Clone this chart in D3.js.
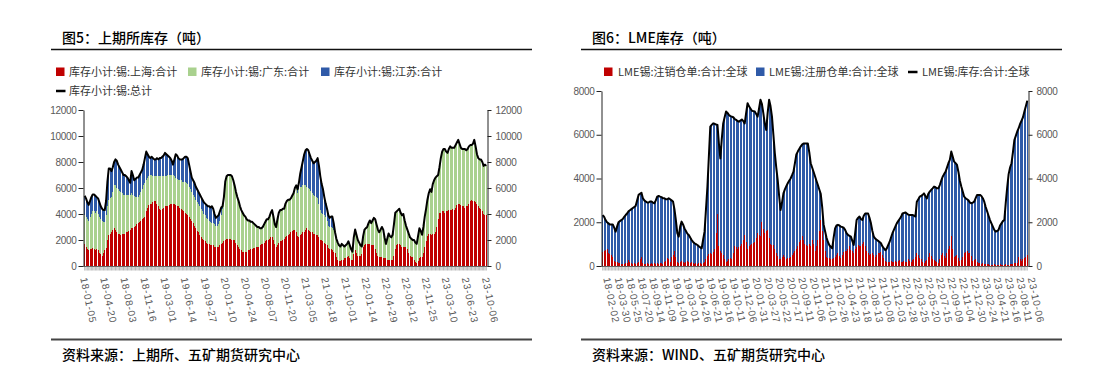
<!DOCTYPE html>
<html><head><meta charset="utf-8">
<script src="https://cdn.jsdelivr.net/npm/d3@7"></script>
<style>
body{margin:0;background:#fff;}
svg{display:block;font-family:"Noto Sans CJK SC","Noto Sans",sans-serif;}
</style></head><body>
<svg id="c" width="1111" height="382"></svg>
<script>
// ---------------- DATA: 图5 上期所库存（吨），周度 ----------------
const shfeStart = "2018-01-05";
const shfeTickLabels = ["18-01-05","18-04-20","18-08-03","18-11-16","19-03-01","19-06-14","19-09-27","20-01-10","20-04-24","20-08-07","20-11-20","21-03-05","21-06-18","21-10-01","22-01-14","22-04-29","22-08-12","22-11-25","23-03-10","23-06-23","23-10-06"];
const shfeYTicks = [0,2000,4000,6000,8000,10000,12000];
const shfeShanghai = [
1700,1500,1300,1200,1300,1300,1400,1300,1200,1300,
1200,1000,900,800,1000,1200,1400,2000,2400,2500,
2600,2800,2900,2800,2600,2500,2500,2400,2500,2500,
2500,2600,2600,2700,2800,2900,2900,3000,3100,3200,
3300,3400,3500,3600,3700,3800,4200,4500,4700,4800,
4800,4900,5000,5000,4800,4600,4400,4300,4400,4500,
4600,4600,4600,4700,4800,4800,4800,4800,4700,4600,
4600,4500,4400,4300,4200,4100,4000,3900,3800,3600,
3500,3300,3100,2900,2700,2600,2400,2200,2100,2000,
1900,1800,1700,1700,1600,1600,1600,1500,1500,1500,
1500,1600,1700,1800,1900,2000,2100,2100,2100,2100,
2000,2000,2000,1800,1600,1500,1300,1200,1100,1100,
1100,1100,1200,1200,1300,1300,1400,1400,1500,1500,
1500,1600,1700,1700,1800,1900,2000,2000,2100,2200,
2200,2000,1700,1500,1600,1800,1900,1900,2000,2100,
2200,2300,2400,2500,2600,2700,2800,2800,2600,2300,
2200,2400,2500,2600,2600,2800,2900,2800,2700,2600,
2600,2500,2500,2400,2400,2200,2000,2000,1900,1800,
1700,1600,1400,1300,1300,1200,1100,1000,700,500,
400,400,500,500,600,600,700,800,600,500,
500,900,1200,1000,800,800,800,900,1500,1600,
1700,1700,1700,1700,1600,1600,1600,1300,1000,800,
700,700,700,600,600,600,500,500,500,500,
500,800,1300,1600,1700,1700,1600,1500,1500,1500,
1500,1300,1000,800,700,700,500,300,200,400,
600,700,700,1000,1500,1900,2300,2500,2500,2400,
2500,2500,2600,3000,3600,4100,4100,4200,4200,4100,
4200,4200,4300,4300,4300,4400,4300,4500,4700,4800,
4800,4700,4600,4600,4500,4600,4600,4800,5000,5100,
5000,5000,4900,4800,4600,4500,4400,4200,4000,3900,
3900];
const shfeGuangdong = [
2200,2300,2300,2300,2500,2700,2800,2900,2900,2900,
2800,2800,2700,2700,2400,2200,2500,2600,2700,2700,
2700,2900,3300,3400,3400,3400,3300,3300,3100,3000,
3000,2900,2900,2800,2700,2700,2600,2400,2200,2100,
2000,2100,2200,2300,2500,2600,2400,2300,2200,2200,
2200,2000,1900,1900,2100,2300,2500,2600,2500,2400,
2300,2300,2400,2300,2200,2200,2200,2100,2100,2100,
2000,2100,2200,2200,2300,2400,2400,2400,2300,2300,
2200,2200,2200,2200,2200,2200,2200,2200,2100,2000,
2000,1900,1900,1800,1800,1700,1700,1700,1600,1600,
1700,1900,2200,2600,3400,4500,4800,4900,4900,4900,
4900,4600,4200,3900,3700,3500,3300,3100,3000,2800,
2700,2500,2300,2300,2100,2100,1900,1800,1600,1500,
1500,1300,1200,1300,1400,1500,1600,1600,1700,1900,
2100,1800,1500,1500,2000,2300,2400,2400,2400,2300,
2600,2700,2700,2600,2600,2700,2800,3200,3400,3300,
3700,3700,3600,3600,3600,3400,3200,3200,3200,3200,
3000,3000,2900,2900,2800,2600,2300,2100,2100,2100,
2100,1900,1700,1700,1700,1700,1700,1600,1400,1300,
1200,1100,1200,1100,900,1000,1000,1100,1000,800,
600,1300,1600,1400,1200,1000,800,600,800,1200,
1200,1300,1600,1800,1700,1900,2100,2300,2200,2000,
1900,2100,2300,2200,1600,1100,1600,2000,1800,1700,
1900,2400,2800,2600,2600,2700,2500,2400,2500,2000,
1600,1500,1500,1400,1400,1300,1500,1500,1500,1900,
2300,2000,1700,2000,2300,2500,2800,3100,3400,3300,
3800,4100,4200,3900,3400,3500,4200,4600,4800,4900,
4600,4500,4700,4900,4800,4700,4800,4800,4800,4900,
4600,4400,4400,4400,4500,4300,4400,4400,4300,4200,
4400,4700,4300,3800,3700,3700,3800,3800,3700,3900,
3800];
const shfeJiangsu = [
1500,1400,1300,1200,1200,1300,1300,1300,1300,1100,
1200,1100,1000,900,900,900,1100,1900,2400,2300,
2000,1900,1800,2000,2100,1900,1800,1700,1600,1500,
1500,1400,1300,1100,900,1700,1500,1200,1400,1500,
1500,1500,1500,1500,1600,1900,2200,1800,1500,1300,
1400,1400,1300,1300,1400,1300,1400,1400,1500,1600,
1800,1700,1500,1400,1300,1100,800,1300,1800,1800,
1700,1600,1600,1700,1800,1900,2000,2000,1700,1400,
1100,1100,1100,1000,1000,900,900,900,900,900,
900,1000,1000,1100,1100,1300,1100,800,600,700,
700,700,600,200,0,0,0,0,0,0,
0,0,0,0,0,0,0,0,0,0,
0,0,0,0,0,0,0,0,0,0,
0,0,0,0,0,0,0,0,0,0,
0,0,0,0,0,0,0,0,0,0,
0,0,0,0,0,0,0,0,200,300,
500,1000,1500,1900,2400,2700,2900,2900,2700,2500,
2500,2400,2600,2800,3100,2900,2600,2200,1900,1400,
1000,900,800,700,800,900,500,0,0,0,
0,0,0,0,0,0,0,0,0,0,
0,0,0,0,0,0,0,0,0,0,
0,0,0,0,0,0,0,0,0,0,
0,0,0,0,0,0,0,0,0,0,
0,0,0,0,0,0,0,0,0,0,
0,0,0,0,0,0,0,0,0,0,
0,0,0,0,0,0,0,0,0,0,
0,0,0,0,0,0,0,0,0,0,
0,0,0,0,0,0,0,0,0,0,
0,0,0,0,0,0,0,0,0,0,
0,0,0,0,0,0,0,0,0,0,
0];

// ---------------- DATA: 图6 LME库存（吨），周度 ----------------
const lmeStart = "2018-02-02";
const lmeTickLabels = ["18-02-02","18-03-30","18-05-25","18-07-20","18-09-14","18-11-09","19-01-04","19-03-01","19-04-26","19-06-21","19-08-16","19-10-11","19-12-06","20-01-31","20-03-27","20-05-22","20-07-17","20-09-11","20-11-06","21-01-01","21-02-26","21-04-23","21-06-18","21-08-13","21-10-08","21-12-03","22-01-28","22-03-25","22-05-20","22-07-15","22-09-09","22-11-04","22-12-30","23-02-24","23-04-21","23-06-16","23-08-11","23-10-06"];
const lmeYTicks = [0,2000,4000,6000,8000];
const lmeCancelled = [
650,700,750,800,600,550,500,400,250,200,
200,150,150,100,100,100,120,150,270,200,
150,100,120,100,150,200,300,400,150,100,
100,120,80,100,150,100,120,100,150,100,
120,150,100,200,250,350,300,200,400,500,
700,400,200,150,200,250,200,150,200,250,
200,150,200,150,100,150,100,120,150,100,
150,200,300,450,550,600,550,650,800,1500,
2400,900,700,600,500,300,200,250,300,350,
300,600,900,850,800,850,900,1000,1200,1400,
1100,800,900,950,1000,1050,1100,1300,1500,1400,
1350,2000,1700,1500,1600,1650,1300,1000,950,950,
800,600,450,300,300,400,500,400,300,350,
350,400,500,600,700,800,900,1100,1200,1350,
1200,1000,950,900,1000,900,1200,1000,700,900,
1200,1600,2100,1600,1200,700,400,350,350,300,
300,350,400,500,600,450,350,500,650,700,
700,800,900,750,700,600,800,850,950,900,
900,1000,1100,900,700,600,500,550,600,500,
400,500,600,600,650,500,350,250,200,200,
200,250,200,200,250,200,250,270,200,200,
250,200,200,300,250,200,270,300,400,600,
500,350,300,200,150,250,270,400,600,450,
300,270,250,200,150,300,500,600,450,350,
600,800,900,1350,800,400,450,500,350,250,
270,400,600,650,700,600,600,450,250,270,
300,200,150,120,100,120,100,100,100,80,
50,50,50,70,50,50,50,80,50,50,
50,80,50,50,100,80,100,120,150,150,
400,300,250,300,350,400,500];
const lmeRegistered = [
1680,1550,1350,1200,1350,1350,1400,1500,1500,1370,
1600,1850,1900,2000,2050,2150,2210,2250,2230,2350,
2450,2550,2580,2650,2850,3050,3000,2950,2950,2900,
2850,2780,2820,2850,2800,2800,2750,2900,3020,3100,
3050,3000,3000,2900,2800,2700,2800,2850,2600,2450,
1900,1700,1300,1190,1600,1780,1700,1570,1400,1230,
1220,1150,990,950,940,850,860,780,700,710,
1050,1370,2300,3180,4450,5770,5900,5870,5700,4970,
4050,4700,4220,5200,6020,6500,6860,6750,6600,6500,
6530,6200,5820,5830,5830,5750,5750,5700,5420,5120,
5900,6640,6400,6250,6100,6030,5960,5650,5330,5800,
6250,5400,5280,5000,4620,5350,6300,6300,5880,5050,
4350,3900,3480,2900,2260,2500,2820,3100,3350,3430,
3550,3600,3650,3710,4000,4300,4330,4250,4260,4200,
4400,4600,4650,4700,4200,3800,3300,3310,3400,3000,
2500,1900,1200,1100,700,900,900,750,600,580,
510,950,1320,1350,1280,1400,1450,1280,1100,950,
800,620,480,590,450,360,700,1250,1250,1360,
1250,1100,1200,1500,1700,1800,1700,1400,1000,840,
850,700,550,500,390,400,460,470,600,750,
900,1050,1300,1450,1550,1750,1800,1880,2050,2200,
2170,2250,2200,2050,2080,2130,2060,2000,1860,2340,
2550,2820,2900,3050,3170,2950,2820,2900,2800,3030,
3250,3360,3350,3350,3400,3400,3400,3480,3750,3960,
3900,3900,3950,3880,4200,4370,4250,4120,3950,3650,
3360,3000,2570,2450,2350,2400,2300,2420,2650,2670,
2800,3050,3100,3130,3100,2980,2840,2600,2400,2220,
2050,1900,1750,1580,1520,1550,1600,1770,1900,2000,
2050,2820,3550,4150,4400,4620,5100,5640,5800,6000,
5900,6200,6400,6500,6710,6900,7060];

// ---------------- DRAWING ----------------
const svg = d3.select("#c");
svg.append("rect").attr("width",1111).attr("height",382).attr("fill","#fff");
const parseD = d3.utcParse("%Y-%m-%d"), fmtD = d3.utcFormat("%y-%m-%d");
const AXF = '"Liberation Sans",Arial,sans-serif';

function panel(o){
  const g = svg.append("g");
  g.append("text").attr("x",o.fx+11).attr("y",42.5).attr("font-size",14).attr("font-weight",500).attr("fill","#000").text(o.title);
  g.append("line").attr("x1",o.fx).attr("x2",o.fx+481).attr("y1",49.5).attr("y2",49.5).attr("stroke","#111").attr("stroke-width",1.6);
  g.append("line").attr("x1",o.fx).attr("x2",o.fx+481).attr("y1",339.5).attr("y2",339.5).attr("stroke","#444").attr("stroke-width",2);
  g.append("text").attr("x",o.fx+11).attr("y",359.5).attr("font-size",14).attr("font-weight",500).attr("fill","#000").text(o.source);

  o.legend.forEach(l=>{
    if(l.type==="rect"){
      g.append("rect").attr("x",l.x).attr("y",l.y-4.5).attr("width",8.5).attr("height",8.5).attr("fill",l.color);
    } else {
      g.append("line").attr("x1",l.x).attr("x2",l.x+9.5).attr("y1",l.y).attr("y2",l.y).attr("stroke","#000").attr("stroke-width",2.5);
    }
    g.append("text").attr("x",l.x+l.tx).attr("y",l.y).attr("dy","0.36em").attr("font-size",11).attr("fill","#333").text(l.label);
  });

  const n = o.series[0].values.length;
  const start = parseD(o.start);
  const cats = d3.range(n).map(i=>fmtD(d3.utcDay.offset(start,7*i)));
  const rows = cats.map((c,i)=>{const r={cat:c}; o.series.forEach(s=>r[s.key]=s.values[i]); return r;});
  const keys = o.series.map(s=>s.key);
  const stack = d3.stack().keys(keys)(rows);
  const totals = rows.map(r=>d3.sum(keys,k=>r[k]));

  const x = d3.scaleBand().domain(cats).range([o.x0,o.x1]).paddingInner(0.3).paddingOuter(0.15);
  const y = d3.scaleLinear().domain([0,o.ymax]).range([o.y0,o.y1]);
  const bw = x.bandwidth();
  const cx = c => x(c)+bw/2;

  // bars: 1px crisp columns so the white gaps show as in the original
  stack.forEach((layer,li)=>{
    g.append("g").attr("fill",o.series[li].color).attr("shape-rendering","crispEdges")
      .selectAll("rect").data(layer).join("rect")
      .attr("x",(d,i)=>Math.round(cx(cats[i])-0.5)).attr("width",1)
      .attr("y",d=>y(d[1])).attr("height",d=>Math.max(0,y(d[0])-y(d[1])));
  });

  g.append("g").selectAll("line").data(cats).join("line")
    .attr("x1",cx).attr("x2",cx).attr("y1",o.y0).attr("y2",o.y0+4.5)
    .attr("stroke","#9a9a9a").attr("stroke-width",0.7);
  g.append("line").attr("x1",o.x0-0.5).attr("x2",o.x1+0.5).attr("y1",o.y0+0.5).attr("y2",o.y0+0.5).attr("stroke","#666").attr("stroke-width",1);

  g.append("path").datum(totals).attr("fill","none").attr("stroke","#000").attr("stroke-width",2).attr("stroke-linejoin","round")
    .attr("d",d3.line().x((d,i)=>cx(cats[i])).y(d=>y(d)));

  const la = g.append("g").attr("transform",`translate(${o.x0-0.5},0)`)
    .call(d3.axisLeft(y).tickValues(o.yticks).tickSize(5).tickSizeOuter(0).tickPadding(2).tickFormat(d3.format("d")));
  const ra = g.append("g").attr("transform",`translate(${o.x1+0.5},0)`)
    .call(d3.axisRight(y).tickValues(o.yticks).tickSize(4).tickSizeOuter(0).tickPadding(4).tickFormat(d3.format("d")));
  [la,ra].forEach(a=>{
    a.select(".domain").attr("stroke","#222");
    a.selectAll(".tick line").attr("stroke","#222");
    a.selectAll("text").attr("font-family",AXF).attr("font-size",10).attr("fill","#595959").attr("letter-spacing","-0.3px");
  });

  o.ticks.forEach(t=>{
    const i = cats.indexOf(t); if(i<0) return;
    const tx = cx(t)+o.ldx, ty = 277.5;
    g.append("text").attr("transform",`translate(${tx},${ty}) rotate(78)`).attr("dy","0.35em")
      .attr("font-family",AXF).attr("font-size",10).attr("letter-spacing","0.8px").attr("fill","#595959").text(t);
  });
}

panel({
  fx:51, title:"图5：上期所库存（吨）", source:"资料来源：上期所、五矿期货研究中心",
  legend:[
    {type:"rect",color:"#C00000",label:"库存小计:锡:上海:合计",x:56,y:72,tx:13},
    {type:"rect",color:"#A9D18E",label:"库存小计:锡:广东:合计",x:188,y:72,tx:13},
    {type:"rect",color:"#2F5AA8",label:"库存小计:锡:江苏:合计",x:321,y:72,tx:13},
    {type:"line",label:"库存小计:锡:总计",x:56,y:91,tx:13}
  ],
  series:[
    {key:"sh",values:shfeShanghai,color:"#C00000"},
    {key:"gd",values:shfeGuangdong,color:"#A9D18E"},
    {key:"js",values:shfeJiangsu,color:"#2F5AA8"}
  ],
  start:shfeStart, ticks:shfeTickLabels, yticks:shfeYTicks, ymax:12000,
  x0:84, x1:487, y0:266, y1:110, ldx:-1
});

panel({
  fx:581, title:"图6：LME库存（吨）", source:"资料来源：WIND、五矿期货研究中心",
  legend:[
    {type:"rect",color:"#C00000",label:"LME锡:注销仓单:合计:全球",x:604,y:72,tx:14},
    {type:"rect",color:"#2F5AA8",label:"LME锡:注册仓单:合计:全球",x:756,y:72,tx:13},
    {type:"line",label:"LME锡:库存:合计:全球",x:908,y:72,tx:14}
  ],
  series:[
    {key:"cancel",values:lmeCancelled,color:"#C00000"},
    {key:"reg",values:lmeRegistered,color:"#2F5AA8"}
  ],
  start:lmeStart, ticks:lmeTickLabels, yticks:lmeYTicks, ymax:8000,
  x0:602, x1:1028, y0:266, y1:91, ldx:4
});
</script>
</body></html>
